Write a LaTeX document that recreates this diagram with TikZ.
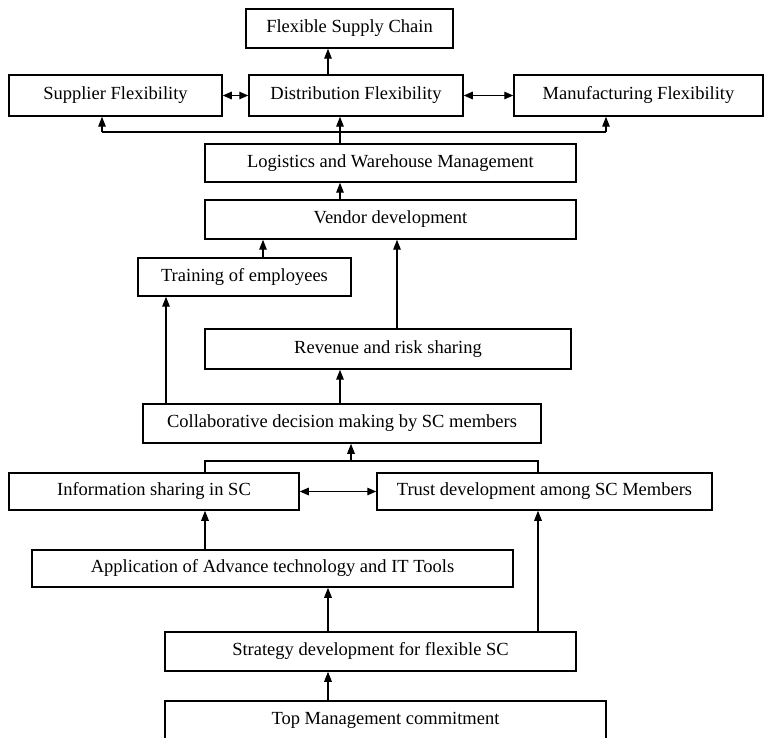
\documentclass[tikz,border=0pt]{standalone}
\usepackage{fontspec}
\setmainfont{Liberation Serif}
\usetikzlibrary{arrows.meta}
\begin{document}
\begin{tikzpicture}[x=1pt,y=-1pt,
  box/.style={draw, line width=1.5pt, inner sep=0pt, text height=12.8pt, text depth=4.2pt,
    font=\fontsize{18.5}{20}\selectfont},
  line/.style={line width=1.4pt},
  arr/.style={line, -{Triangle[length=10pt,width=7.5pt]}},
  dbl/.style={line, {Triangle[length=9pt,width=7.5pt]}-{Triangle[length=9pt,width=7.5pt]}}]
\useasboundingbox[fill=white] (0,0) rectangle (764,738);
\newcommand\bx[6]{\node[box, minimum width={#4-#2}, minimum height={#5-#3}] (#1) at ({(#2+#4)/2},{(#3+#5)/2}) {#6};}
\bx{fsc}{246}{9}{453}{48}{Flexible Supply Chain}
\bx{sup}{9}{75}{222}{116}{Supplier Flexibility}
\bx{dist}{249}{75}{463}{116}{Distribution Flexibility}
\bx{man}{514}{75}{763}{116}{Manufacturing Flexibility}
\bx{log}{205}{144}{576}{182}{Logistics and Warehouse Management}
\bx{ven}{205}{200}{576}{239}{Vendor development}
\bx{tra}{138}{258}{351}{296}{Training of employees}
\bx{rev}{205}{329}{571}{369}{Revenue and risk sharing}
\bx{col}{143}{404}{541}{443}{Collaborative decision making by SC members}
\bx{inf}{9}{473}{299}{510}{Information sharing in SC}
\bx{tru}{377}{473}{712}{510}{Trust development among SC Members}
\bx{app}{32}{550}{513}{587}{Application of Advance technology and IT Tools}
\bx{str}{165}{632}{576}{671}{Strategy development for flexible SC}
\bx{top}{165}{701}{606}{740}{Top Management commitment}
% top part
\draw[arr] (328,0 |- dist.north) -- (328,0 |- fsc.south);
\draw[dbl] (sup.east) -- (dist.west);
\draw[dbl] (dist.east) -- (man.west);
\coordinate (j1) at (340,132);
\coordinate (hl) at (102,132);
\coordinate (hr) at (606,132);
\draw[line] (j1 |- log.north) -- (j1);
\draw[line] (hl) -- (hr);
\draw[arr] (hl) -- (hl |- sup.south);
\draw[arr] (j1) -- (j1 |- dist.south);
\draw[arr] (hr) -- (hr |- man.south);
% middle
\draw[arr] (340,0 |- ven.north) -- (340,0 |- log.south);
\draw[arr] (263,0 |- tra.north) -- (263,0 |- ven.south);
\draw[arr] (397,0 |- rev.north) -- (397,0 |- ven.south);
\draw[arr] (166,0 |- col.north) -- (166,0 |- tra.south);
\draw[arr] (340,0 |- col.north) -- (340,0 |- rev.south);
% bracket
\coordinate (bl) at (205,461);
\coordinate (br) at (538,461);
\coordinate (bm) at (351,461);
\draw[line] (bl |- inf.north) -- (bl) -- (br) -- (br |- tru.north);
\draw[arr] (bm) -- (bm |- col.south);
\draw[dbl] (inf.east) -- (tru.west);
% bottom
\draw[arr] (205,0 |- app.north) -- (205,0 |- inf.south);
\draw[arr] (538,0 |- str.north) -- (538,0 |- tru.south);
\draw[arr] (328,0 |- str.north) -- (328,0 |- app.south);
\draw[arr] (328,0 |- top.north) -- (328,0 |- str.south);
\end{tikzpicture}
\end{document}
